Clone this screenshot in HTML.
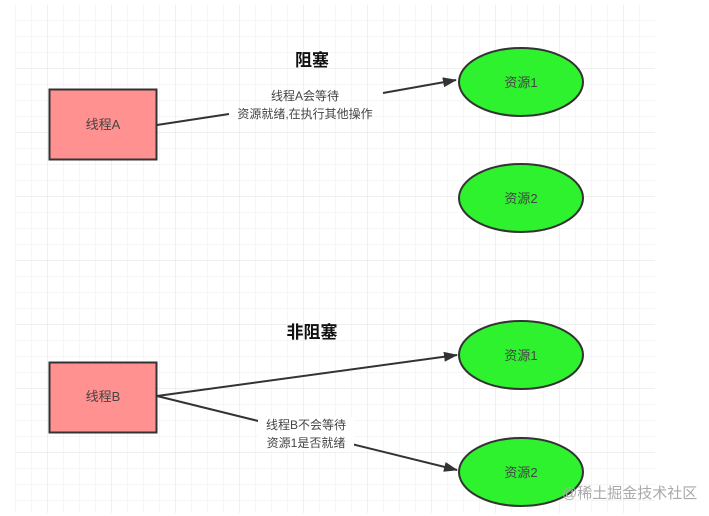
<!DOCTYPE html>
<html><head><meta charset="utf-8"><style>
html,body{margin:0;padding:0;background:#fff;width:709px;height:516px;overflow:hidden}
svg{display:block}
text{font-family:"Liberation Sans","Noto Sans CJK SC",sans-serif}
</style></head><body>
<svg width="709" height="516" viewBox="0 0 709 516" xmlns="http://www.w3.org/2000/svg">
<defs>
<pattern id="minor" x="15" y="4" width="16" height="16" patternUnits="userSpaceOnUse">
<path d="M16 0H0V16" fill="none" stroke="#eeeeee" stroke-width="1"/>
</pattern>
<pattern id="major" x="47" y="4" width="64" height="64" patternUnits="userSpaceOnUse">
<path d="M64 0H0V64" fill="none" stroke="#e2e2e2" stroke-width="1"/>
</pattern>
<marker id="ah" markerWidth="14" markerHeight="10" refX="13" refY="5" orient="auto" markerUnits="userSpaceOnUse">
<path d="M0,0 L14,5 L0,10 Z" fill="#333"/>
</marker>
</defs>
<rect x="15" y="5" width="640" height="508" fill="url(#minor)"/>
<rect x="15" y="5" width="640" height="508" fill="url(#major)"/>

<!-- top -->
<text x="312" y="66" font-size="17" font-weight="bold" text-anchor="middle" fill="#111">阻塞</text>
<rect x="49.5" y="89.5" width="107" height="70" fill="#ff9190" stroke="#333" stroke-width="2"/>
<text x="103" y="129" font-size="13" text-anchor="middle" fill="#444">线程A</text>
<line x1="157" y1="125" x2="229" y2="114" stroke="#333" stroke-width="2"/>
<line x1="383" y1="93" x2="456" y2="80" stroke="#333" stroke-width="2" marker-end="url(#ah)"/>
<text x="305" y="100" font-size="12" text-anchor="middle" fill="#444">线程A会等待</text>
<text x="305" y="118" font-size="12" text-anchor="middle" fill="#444">资源就绪,在执行其他操作</text>
<ellipse cx="521" cy="82" rx="62" ry="34" fill="#2ef22e" stroke="#333" stroke-width="2"/>
<text x="521" y="87" font-size="13" text-anchor="middle" fill="#444">资源1</text>
<ellipse cx="521" cy="198" rx="62" ry="34" fill="#2ef22e" stroke="#333" stroke-width="2"/>
<text x="521" y="203" font-size="13" text-anchor="middle" fill="#444">资源2</text>

<!-- bottom -->
<text x="312" y="338" font-size="17" font-weight="bold" text-anchor="middle" fill="#111">非阻塞</text>
<rect x="49.5" y="362.5" width="107" height="70" fill="#ff9190" stroke="#333" stroke-width="2"/>
<text x="103" y="401" font-size="13" text-anchor="middle" fill="#444">线程B</text>
<line x1="157" y1="396" x2="457" y2="355" stroke="#333" stroke-width="2" marker-end="url(#ah)"/>
<line x1="157" y1="396" x2="457" y2="470" stroke="#333" stroke-width="2" marker-end="url(#ah)"/>
<rect x="258" y="417" width="96" height="34" fill="#fff"/>
<text x="306" y="429" font-size="12" text-anchor="middle" fill="#444">线程B不会等待</text>
<text x="306" y="447" font-size="12" text-anchor="middle" fill="#444">资源1是否就绪</text>
<ellipse cx="521" cy="355" rx="62" ry="34" fill="#2ef22e" stroke="#333" stroke-width="2"/>
<text x="521" y="360" font-size="13" text-anchor="middle" fill="#444">资源1</text>
<ellipse cx="521" cy="472" rx="62" ry="34" fill="#2ef22e" stroke="#333" stroke-width="2"/>
<text x="521" y="477" font-size="13" text-anchor="middle" fill="#444">资源2</text>

<text x="562" y="498" font-size="15" fill="#aaa">@稀土掘金技术社区</text>
</svg>
</body></html>
